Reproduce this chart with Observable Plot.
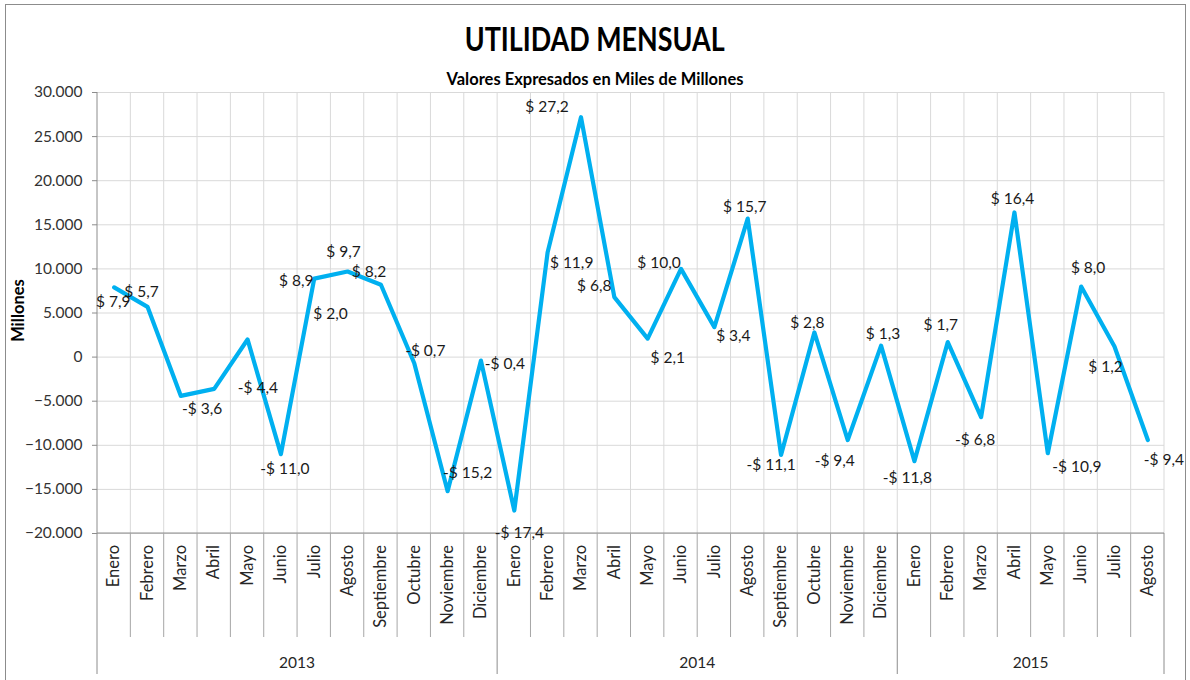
<!DOCTYPE html>
<html>
<head>
<meta charset="utf-8">
<script src="https://cdn.jsdelivr.net/npm/d3@7"></script>
<script src="https://cdn.jsdelivr.net/npm/@observablehq/plot@0.6"></script>
<style>
  html, body { margin: 0; padding: 0; background: #fff; }
  body { width: 1190px; height: 680px; overflow: hidden; position: relative; font-family: Lato, "Open Sans", sans-serif; }
  #frame { position: absolute; left: 5px; top: 4px; width: 1181px; height: 700px; border: 1.5px solid #8c8c8c; box-sizing: border-box; }
  #title { position: absolute; left: 0; top: 23px; width: 1190px; text-align: center; line-height: 1; }
  #title span { display: inline-block; font-weight: 700; font-size: 32px; color: #000; transform: scaleX(0.84); transform-origin: center; }
  #sub { position: absolute; left: 0; top: 71px; width: 1190px; text-align: center; line-height: 1; font-weight: 700; font-size: 16.5px; color: #000; }
  #chart { position: absolute; left: 0; top: 85px; }
</style>
</head>
<body>
<div id="frame"></div>
<div id="title"><span>UTILIDAD MENSUAL</span></div>
<div id="sub">Valores Expresados en Miles de Millones</div>
<div id="chart"></div>
<script>
// ---------------- data ----------------
const periodYear = [
  "2013","2013","2013","2013","2013","2013","2013","2013","2013","2013","2013","2013",
  "2014","2014","2014","2014","2014","2014","2014","2014","2014","2014","2014","2014",
  "2015","2015","2015","2015","2015","2015","2015","2015"
];
const periodMonth = [
  "Enero","Febrero","Marzo","Abril","Mayo","Junio","Julio","Agosto","Septiembre","Octubre","Noviembre","Diciembre",
  "Enero","Febrero","Marzo","Abril","Mayo","Junio","Julio","Agosto","Septiembre","Octubre","Noviembre","Diciembre",
  "Enero","Febrero","Marzo","Abril","Mayo","Junio","Julio","Agosto"
];
// Utilidad (millones)
const utilidad = [
  7900, 5700, -4400, -3600, 2000, -11000, 8900, 9700, 8200, -700, -15200, -400,
  -17400, 11900, 27200, 6800, 2100, 10000, 3400, 15700, -11100, 2800, -9400, 1300,
  -11800, 1700, -6800, 16400, -10900, 8000, 1200, -9400
];
const years = ["2013", "2014", "2015"];
const yTicks = [-20000, -15000, -10000, -5000, 0, 5000, 10000, 15000, 20000, 25000, 30000];
// label nudges (px) relative to each point, as in the reference
const labelNudge = [
  [-1, 15], [-6, -15], [77, -8], [-12, 20], [83, -25], [4, 15], [-18, 2], [-4, -20],
  [-12, -13], [11, -12], [20, -18], [24, 3], [5, 22], [24, 11], [-34, -10], [-20, -11],
  [20, 19], [-22, -6], [19, 9], [-3, -12], [-10, 10], [-7, -9], [-13, 21], [2, -12],
  [-7, 17], [-7, -17], [-6, 23], [-2, -13], [29, 14], [7, -19], [-9, 21], [16, 20]
];

// ---------------- helpers ----------------
const loc = d3.formatLocale({decimal: ",", thousands: ".", grouping: [3], currency: ["$", ""]});
const fmtTick = loc.format(",.0f");
const fmt1 = loc.format(".1f");
const fmtLabel = v => (v < 0 ? "-$ " : "$ ") + fmt1(Math.abs(v) / 1000);

const keys = periodMonth.map((m, i) => periodYear[i] + "-" + i);
const rows = utilidad.map((v, i) => ({key: keys[i], month: periodMonth[i], year: periodYear[i], value: v}));

function decor(index, scales, values, dims) {
  const sx = scales.x;
  const N = keys.length;
  const bw = typeof sx.bandwidth === "function" ? sx.bandwidth() : (dims.width - dims.marginLeft - dims.marginRight) / N;
  const edge = i => (i < N ? sx(keys[i]) : sx(keys[N - 1]) + bw);
  const top = dims.marginTop;
  const bottom = dims.height - dims.marginBottom;
  const g = d3.create("svg:g");
  // vertical grid lines
  for (let i = 1; i <= N; i++) {
    g.append("line").attr("x1", edge(i)).attr("x2", edge(i)).attr("y1", top).attr("y2", bottom)
      .attr("stroke", "#d9d9d9").attr("stroke-width", 1);
  }
  // axis lines
  g.append("line").attr("x1", edge(0)).attr("x2", edge(N)).attr("y1", bottom).attr("y2", bottom)
    .attr("stroke", "#8c8c8c").attr("stroke-width", 1);
  g.append("line").attr("x1", edge(0)).attr("x2", edge(0)).attr("y1", top).attr("y2", bottom)
    .attr("stroke", "#8c8c8c").attr("stroke-width", 1);
  // category separators and year separators
  const yearStarts = new Set([0, N]);
  for (let i = 1; i < N; i++) if (periodYear[i] !== periodYear[i - 1]) yearStarts.add(i);
  for (let i = 0; i <= N; i++) {
    const long = yearStarts.has(i);
    g.append("line").attr("x1", edge(i)).attr("x2", edge(i)).attr("y1", bottom).attr("y2", bottom + (long ? 141 : 104))
      .attr("stroke", long ? "#8c8c8c" : "#a6a6a6").attr("stroke-width", 1);
  }
  // month labels
  for (let i = 0; i < N; i++) {
    const cx = sx(keys[i]) + bw / 2;
    const yTop = bottom + 12;
    g.append("text").attr("transform", `translate(${cx},${yTop}) rotate(-90)`)
      .attr("text-anchor", "end").attr("dy", "0.35em")
      .attr("font-size", 16.5).attr("fill", "#262626").text(periodMonth[i]);
  }
  // year labels
  years.forEach(yr => {
    const idx = periodYear.map((y, i) => (y === yr ? i : -1)).filter(i => i >= 0);
    const x0 = edge(idx[0]), x1 = edge(idx[idx.length - 1] + 1);
    g.append("text").attr("x", (x0 + x1) / 2).attr("y", bottom + 130).attr("dy", "0.35em")
      .attr("text-anchor", "middle").attr("font-size", 15.5).attr("fill", "#262626").text(yr);
  });
  // y axis title
  g.append("text").attr("transform", `translate(18,${(top + bottom) / 2 - 2}) rotate(-90)`)
    .attr("text-anchor", "middle").attr("dy", "0.35em")
    .attr("font-size", 16.5).attr("font-weight", 700).attr("fill", "#000").text("Millones");
  return g.node();
}

const labelMarks = rows.map((r, i) => Plot.text([r], {
  x: "key", y: "value", text: d => fmtLabel(d.value),
  dx: labelNudge[i][0], dy: labelNudge[i][1],
  fontSize: 15.5, fill: "#1a1a1a", textAnchor: "middle"
}));

const chart = Plot.plot({
  width: 1190,
  height: 595,
  marginTop: 7,
  marginBottom: 147,
  marginLeft: 97,
  marginRight: 26,
  style: {fontFamily: "Lato, 'Open Sans', sans-serif", background: "transparent", overflow: "visible"},
  x: {type: "band", domain: keys, padding: 0, round: false, axis: null},
  y: {domain: [-20000, 30000]},
  marks: [
    Plot.gridY(yTicks, {stroke: "#d9d9d9", strokeOpacity: 1}),
    decor,
    Plot.axisY(yTicks, {tickFormat: fmtTick, tickSize: 5, tickPadding: 10, fontSize: 15.5, fill: "#333", stroke: "#8c8c8c", label: null}),
    Plot.line(rows, {x: "key", y: "value", stroke: "#00B0F0", strokeWidth: 4.2}),
    ...labelMarks
  ]
});
document.getElementById("chart").appendChild(chart);
</script>
</body>
</html>
